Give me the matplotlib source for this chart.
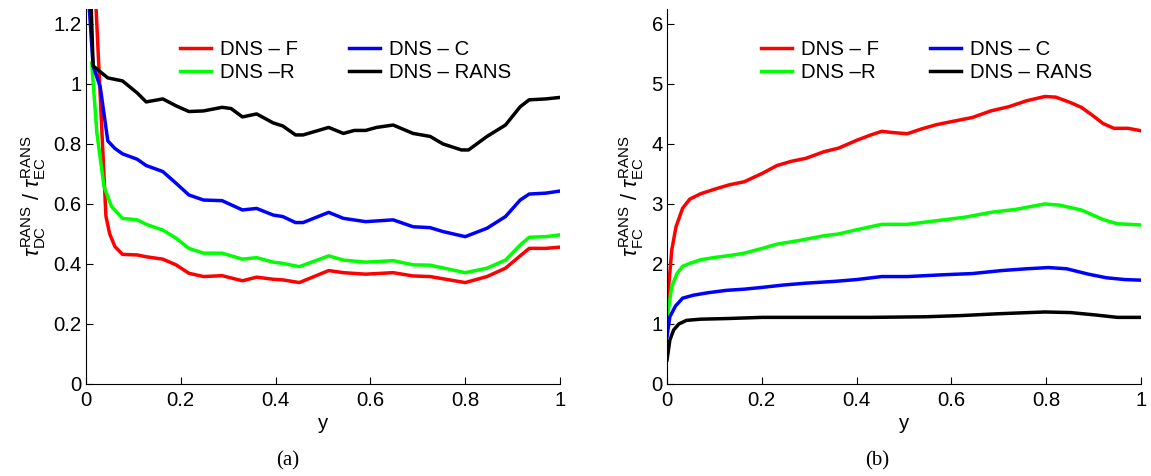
import numpy as np
import matplotlib
matplotlib.use('Agg')
import matplotlib.pyplot as plt

plt.rcParams['font.family'] = ['Liberation Sans', 'DejaVu Sans']
plt.rcParams['mathtext.fontset'] = 'custom'
plt.rcParams['mathtext.rm'] = 'Liberation Sans'
plt.rcParams['mathtext.it'] = 'Liberation Sans:italic'

# panel (a): tau_DC / tau_EC
xa_f = [0.015, 0.021, 0.042, 0.05, 0.061, 0.077, 0.108, 0.127, 0.162, 0.19, 0.217, 0.248, 0.287,
        0.33, 0.36, 0.395, 0.415, 0.45, 0.512, 0.543, 0.59, 0.648, 0.69, 0.726, 0.8, 0.846,
        0.885, 0.916, 0.935, 0.97, 1.0]
ya_f = [1.6, 1.26, 0.56, 0.50, 0.458, 0.432, 0.43, 0.424, 0.416, 0.397, 0.369, 0.358, 0.361,
        0.344, 0.356, 0.349, 0.347, 0.338, 0.378, 0.371, 0.366, 0.371, 0.36, 0.358, 0.338, 0.358,
        0.386, 0.427, 0.452, 0.452, 0.456]
xa_r = [0.012, 0.023, 0.038, 0.054, 0.077, 0.108, 0.127, 0.162, 0.19, 0.217, 0.248, 0.287, 0.33,
        0.36, 0.395, 0.415, 0.45, 0.512, 0.543, 0.59, 0.648, 0.69, 0.726, 0.8, 0.846, 0.885,
        0.916, 0.935, 0.97, 1.0]
ya_r = [1.07, 0.836, 0.658, 0.591, 0.552, 0.547, 0.532, 0.513, 0.486, 0.452, 0.436, 0.436, 0.416,
        0.421, 0.406, 0.402, 0.391, 0.427, 0.413, 0.406, 0.411, 0.397, 0.396, 0.371, 0.386, 0.413,
        0.463, 0.489, 0.491, 0.497]
xa_c = [0.005, 0.015, 0.03, 0.046, 0.061, 0.077, 0.108, 0.127, 0.162, 0.19, 0.217, 0.248, 0.287,
        0.33, 0.36, 0.395, 0.415, 0.442, 0.458, 0.512, 0.543, 0.59, 0.648, 0.69, 0.726, 0.753,
        0.8, 0.846, 0.885, 0.916, 0.935, 0.97, 1.0]
ya_c = [1.3, 1.06, 0.99, 0.81, 0.785, 0.767, 0.749, 0.728, 0.708, 0.669, 0.63, 0.613, 0.611,
        0.58, 0.585, 0.563, 0.558, 0.538, 0.538, 0.572, 0.552, 0.541, 0.547, 0.524, 0.521, 0.508,
        0.491, 0.519, 0.558, 0.613, 0.633, 0.636, 0.643]
xa_k = [0.008, 0.015, 0.046, 0.077, 0.108, 0.127, 0.162, 0.19, 0.217, 0.248, 0.287, 0.306, 0.33,
        0.36, 0.395, 0.415, 0.442, 0.458, 0.512, 0.543, 0.566, 0.59, 0.613, 0.648, 0.69, 0.726,
        0.753, 0.792, 0.807, 0.846, 0.885, 0.916, 0.935, 0.97, 1.0]
ya_k = [1.4, 1.06, 1.02, 1.01, 0.97, 0.94, 0.95, 0.927, 0.908, 0.91, 0.922, 0.918, 0.89,
        0.9, 0.87, 0.86, 0.83, 0.83, 0.855, 0.835, 0.845, 0.845, 0.855, 0.863, 0.835, 0.825,
        0.80, 0.78, 0.78, 0.825, 0.863, 0.924, 0.947, 0.95, 0.955]

# panel (b): tau_FC / tau_EC
xb_f = [0.0, 0.01, 0.019, 0.033, 0.048, 0.071, 0.102, 0.132, 0.163, 0.201, 0.232, 0.262, 0.293,
        0.331, 0.362, 0.4, 0.43, 0.453, 0.476, 0.507, 0.537, 0.568, 0.599, 0.644, 0.683, 0.721,
        0.759, 0.797, 0.82, 0.851, 0.874, 0.897, 0.92, 0.943, 0.973, 1.0]
yb_f = [1.29, 2.23, 2.62, 2.93, 3.08, 3.17, 3.25, 3.32, 3.37, 3.51, 3.64, 3.71, 3.76,
        3.87, 3.93, 4.06, 4.15, 4.21, 4.19, 4.17, 4.25, 4.32, 4.37, 4.44, 4.55, 4.62,
        4.72, 4.79, 4.78, 4.69, 4.61, 4.48, 4.34, 4.26, 4.26, 4.22]
xb_r = [0.0, 0.01, 0.021, 0.033, 0.048, 0.071, 0.102, 0.132, 0.163, 0.201, 0.232, 0.278, 0.331,
        0.362, 0.4, 0.453, 0.507, 0.568, 0.629, 0.683, 0.736, 0.797, 0.828, 0.874, 0.92, 0.95, 1.0]
yb_r = [1.09, 1.62, 1.84, 1.96, 2.01, 2.07, 2.11, 2.14, 2.18, 2.26, 2.33, 2.39, 2.47,
        2.5, 2.57, 2.66, 2.66, 2.72, 2.78, 2.86, 2.91, 3.0, 2.98, 2.9, 2.74, 2.67, 2.65]
xb_c = [0.0, 0.006, 0.018, 0.033, 0.056, 0.086, 0.125, 0.163, 0.201, 0.247, 0.293, 0.354, 0.4,
        0.453, 0.507, 0.583, 0.644, 0.706, 0.759, 0.805, 0.843, 0.889, 0.927, 0.966, 1.0]
yb_c = [0.79, 1.12, 1.3, 1.43, 1.48, 1.52, 1.56, 1.58, 1.61, 1.65, 1.68, 1.71, 1.74,
        1.79, 1.79, 1.82, 1.84, 1.89, 1.92, 1.94, 1.92, 1.83, 1.77, 1.74, 1.73]
xb_k = [0.0, 0.006, 0.014, 0.025, 0.041, 0.071, 0.125, 0.201, 0.354, 0.43, 0.545, 0.621, 0.698,
        0.797, 0.851, 0.904, 0.95, 1.0]
yb_k = [0.4, 0.73, 0.9, 1.0, 1.06, 1.08, 1.09, 1.11, 1.11, 1.11, 1.12, 1.14, 1.17,
        1.2, 1.19, 1.15, 1.11, 1.11]

labels = ['DNS \u2013 F', 'DNS \u2013R', 'DNS \u2013 C', 'DNS \u2013 RANS']
colors = ['#ff0000', '#00ff00', '#0000ff', '#000000']

fig = plt.figure(figsize=(11.51, 4.76), dpi=100)
ax1 = fig.add_axes([86 / 1151, 0.1933, 474 / 1151, 0.788])
ax2 = fig.add_axes([667 / 1151, 0.1933, 474 / 1151, 0.788])

panel_a = [(xa_f, ya_f), (xa_r, ya_r), (xa_c, ya_c), (xa_k, ya_k)]
panel_b = [(xb_f, yb_f), (xb_r, yb_r), (xb_c, yb_c), (xb_k, yb_k)]

fs = 14.7
for ax, data in [(ax1, panel_a), (ax2, panel_b)]:
    for (x, y), c, lab in zip(data, colors, labels):
        ax.plot(x, y, color=c, lw=2.5, label=lab)
    ax.set_xlim(0, 1)
    ax.set_xticks([0, 0.2, 0.4, 0.6, 0.8, 1])
    ax.set_xticklabels(['0', '0.2', '0.4', '0.6', '0.8', '1'])
    ax.spines['top'].set_visible(False)
    ax.spines['right'].set_visible(False)
    ax.tick_params(direction='in', length=5, labelsize=fs)
    ax.tick_params(axis='y', pad=3)
    ax.tick_params(axis='x', pad=5)
    ax.set_xlabel('y', fontsize=fs, labelpad=3)
    ax.legend(ncol=2, loc='upper left', bbox_to_anchor=(0.198, 0.918), frameon=False,
              fontsize=fs, handlelength=1.55, columnspacing=2.5, labelspacing=0.22,
              handletextpad=0.4, borderpad=0, borderaxespad=0)

ax1.set_ylim(0, 1.25)
ax1.set_yticks([0, 0.2, 0.4, 0.6, 0.8, 1, 1.2])
ax1.set_yticklabels(['0', '0.2', '0.4', '0.6', '0.8', '1', '1.2'])
ax1.set_ylabel(r'$\tau^{\mathrm{RANS}}_{\mathrm{DC}}\ /\ \tau^{\mathrm{RANS}}_{\mathrm{EC}}$',
               fontsize=15.5, labelpad=4)
ax2.set_ylim(0, 6.25)
ax2.set_yticks([0, 1, 2, 3, 4, 5, 6])
ax2.set_ylabel(r'$\tau^{\mathrm{RANS}}_{\mathrm{FC}}\ /\ \tau^{\mathrm{RANS}}_{\mathrm{EC}}$',
               fontsize=15.5, labelpad=4)

fig.text(288 / 1151, 1 - 461 / 476, '(a)', ha='center', va='center',
         family='Liberation Serif', fontsize=15)
fig.text(877 / 1151, 1 - 461 / 476, '(b)', ha='center', va='center',
         family='Liberation Serif', fontsize=15)

fig.savefig('out.png', dpi=100)
